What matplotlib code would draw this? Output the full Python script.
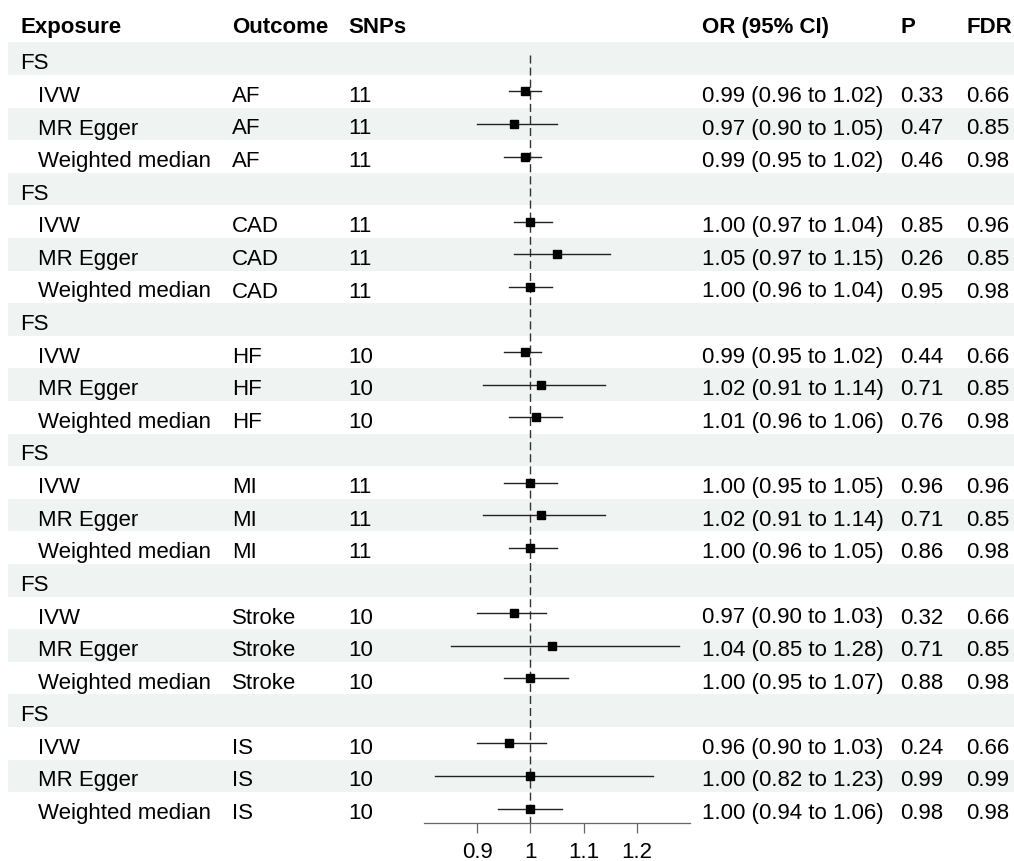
import numpy as np
import matplotlib.pyplot as plt

# MR results: FS as exposure, one block per cardiovascular outcome
outcomes = ["AF", "CAD", "HF", "MI", "Stroke", "IS"]
snps = [11, 11, 10, 11, 10, 10]
methods = ["IVW", "MR Egger", "Weighted median"]

or_est = [[0.99, 0.97, 0.99],
          [1.00, 1.05, 1.00],
          [0.99, 1.02, 1.01],
          [1.00, 1.02, 1.00],
          [0.97, 1.04, 1.00],
          [0.96, 1.00, 1.00]]
or_lo = [[0.96, 0.90, 0.95],
         [0.97, 0.97, 0.96],
         [0.95, 0.91, 0.96],
         [0.95, 0.91, 0.96],
         [0.90, 0.85, 0.95],
         [0.90, 0.82, 0.94]]
or_hi = [[1.02, 1.05, 1.02],
         [1.04, 1.15, 1.04],
         [1.02, 1.14, 1.06],
         [1.05, 1.14, 1.05],
         [1.03, 1.28, 1.07],
         [1.03, 1.23, 1.06]]
p_val = [["0.33", "0.47", "0.46"],
         ["0.85", "0.26", "0.95"],
         ["0.44", "0.71", "0.76"],
         ["0.96", "0.71", "0.86"],
         ["0.32", "0.71", "0.88"],
         ["0.24", "0.99", "0.98"]]
fdr = [["0.66", "0.85", "0.98"],
       ["0.96", "0.85", "0.98"],
       ["0.66", "0.85", "0.98"],
       ["0.96", "0.85", "0.98"],
       ["0.66", "0.85", "0.98"],
       ["0.66", "0.99", "0.98"]]

headers = ["Exposure", "Outcome", "SNPs", "OR (95% CI)", "P", "FDR"]
xticks = [0.9, 1.0, 1.1, 1.2]
xtick_labels = ["0.9", "1", "1.1", "1.2"]

W, H = 1014, 862
FONT = "Liberation Sans"
FS = 16
row0 = 59.7      # centre of first row (px)
pitch = 32.6     # row height (px)
n_rows = len(outcomes) * 4
band_fill = "#eff3f2"

fig = plt.figure(figsize=(W / 100, H / 100), dpi=100)
ax = fig.add_axes([0, 0, 1, 1])
ax.set_xlim(0, W)
ax.set_ylim(H, 0)
ax.axis("off")

col_x = {"exp": 20, "method": 38, "out": 232, "snp": 348,
         "or": 702, "p": 900, "fdr": 966}
hdr_x = [col_x["exp"], col_x["out"], col_x["snp"], col_x["or"], col_x["p"], col_x["fdr"]]

def put(x, y, s, **kw):
    ax.text(x, y + 9.6, s, fontsize=FS, family=FONT, color="black",
            ha="left", va="baseline", **kw)

for x, h in zip(hdr_x, headers):
    put(x, 23.6, h, fontweight="bold")

# shaded bands on every other row
for r in range(0, n_rows, 2):
    yc = row0 + r * pitch
    ax.add_patch(plt.Rectangle((8, yc - pitch / 2), W - 8, pitch,
                               facecolor=band_fill, edgecolor="none", zorder=0))

r = 0
for k, out in enumerate(outcomes):
    put(col_x["exp"], row0 + r * pitch, "FS")
    r += 1
    for j, m in enumerate(methods):
        y = row0 + r * pitch
        put(col_x["method"], y, m)
        put(col_x["out"], y, out)
        put(col_x["snp"], y, str(snps[k]))
        put(col_x["or"], y, f"{or_est[k][j]:.2f} ({or_lo[k][j]:.2f} to {or_hi[k][j]:.2f})")
        put(col_x["p"], y, p_val[k][j])
        put(col_x["fdr"], y, fdr[k][j])
        r += 1

# forest panel
fx0, fx1 = 424, 690
ftop = row0 - pitch / 2
fbot = row0 + (n_rows - 0.5) * pitch - 1.5
axf = fig.add_axes([fx0 / W, 1 - fbot / H, (fx1 - fx0) / W, (fbot - ftop) / H])
axf.patch.set_visible(False)
axf.set_xlim(0.8, 1.3)
axf.set_ylim(n_rows - 0.5 - 1.5 / pitch, -0.5)
for s in ["top", "right", "left"]:
    axf.spines[s].set_visible(False)
axf.spines["bottom"].set_color("#666666")
axf.spines["bottom"].set_linewidth(0.9)
axf.set_yticks([])
axf.set_xticks(xticks)
axf.set_xticklabels(xtick_labels, fontsize=FS, family=FONT)
axf.tick_params(axis="x", length=7, width=0.9, color="#666666", pad=6)

axf.plot([1, 1], [-0.1, n_rows - 0.5], color="#333333", lw=1.0,
         ls=(0, (5.8, 2.9)), zorder=1)

r = 0
for k in range(len(outcomes)):
    r += 1
    for j in range(len(methods)):
        axf.plot([or_lo[k][j], or_hi[k][j]], [r, r], color="#222222", lw=1.0, zorder=2)
        axf.plot(or_est[k][j], r, marker="s", ms=5.5, color="black", zorder=3)
        r += 1

fig.savefig("out.png", dpi=100)
